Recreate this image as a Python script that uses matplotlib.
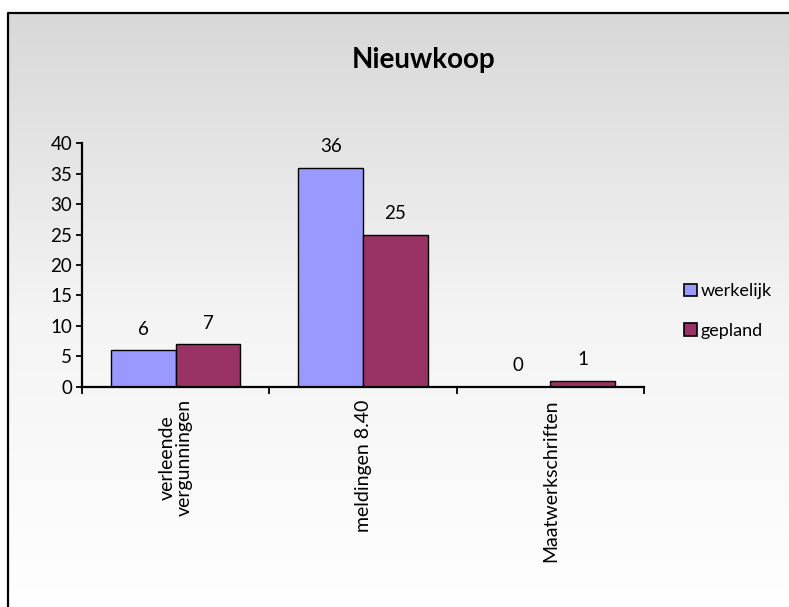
import numpy as np
import matplotlib
matplotlib.use("Agg")
import matplotlib.pyplot as plt
from matplotlib.patches import Patch

plt.rcParams['font.family'] = ['Lato', 'DejaVu Sans']

# data
categories = ['verleende\nvergunningen', 'meldingen 8.40', 'Maatwerkschriften']
werkelijk = [6, 36, 0]
gepland = [7, 25, 1]
series_names = ['werkelijk', 'gepland']
colors = ['#9999FF', '#993366']

W, H = 789, 607
fig = plt.figure(figsize=(W / 100, H / 100), dpi=100, facecolor='white')

# background: grey-to-white gradient inside a chart border
bg = fig.add_axes([0, 0, 1, 1], zorder=-1)
bg.set_xlim(0, W)
bg.set_ylim(H, 0)
bg.axis('off')
grad = np.linspace(0, 1, 256).reshape(-1, 1)
bg.imshow(grad, cmap=matplotlib.colors.LinearSegmentedColormap.from_list(
    'g', ['#d8d8d8', '#f4f4f4', '#ffffff']), aspect='auto',
    extent=[8, W + 10, H + 10, 13])
bg.plot([8.5, 8.5, W + 10], [H + 10, 13, 13], color='black', lw=1.6,
        solid_capstyle='butt')

# main axes
ax = fig.add_axes([82 / W, 1 - 386.7 / H, (644 - 82) / W, (386.7 - 143.3) / H])
ax.set_facecolor('none')

x = np.arange(len(categories))
bw = 0.345
b1 = ax.bar(x - bw / 2, werkelijk, bw, color=colors[0], edgecolor='black', lw=1.0)
b2 = ax.bar(x + bw / 2, gepland, bw, color=colors[1], edgecolor='black', lw=1.0)

for bars, vals in ((b1, werkelijk), (b2, gepland)):
    for rect, v in zip(bars, vals):
        ax.annotate(str(v), (rect.get_x() + rect.get_width() / 2, v),
                    xytext=(0, 9), textcoords='offset points',
                    ha='center', va='bottom', fontsize=13.5)

ax.set_xlim(-0.5, len(categories) - 0.5)
ax.set_ylim(0, 40)
ax.set_yticks(range(0, 41, 5))
ax.tick_params(axis='y', direction='out', length=4, width=1.3, labelsize=13.5, pad=3)

ax.set_xticks(x)
ax.set_xticklabels(categories, rotation=90, fontsize=14, ha='center', va='top',
                   linespacing=1.0)
ax.set_xticks(np.arange(-0.5, len(categories)), minor=True)
ax.tick_params(axis='x', which='major', length=0, pad=9)
ax.tick_params(axis='x', which='minor', direction='out', length=5, width=1.3)

for s in ('top', 'right'):
    ax.spines[s].set_visible(False)
for s in ('left', 'bottom'):
    ax.spines[s].set_linewidth(1.6)

fig.text(424 / W, 1 - 60 / H, 'Nieuwkoop', ha='center', va='center',
         fontsize=20, fontweight='bold')

handles = [Patch(facecolor=c, edgecolor='black', lw=1.2) for c in colors]
fig.legend(handles, series_names, loc='upper left',
           bbox_to_anchor=(677 / W, 1 - 276 / H), frameon=False, fontsize=13,
           handlelength=0.7, handleheight=0.7, handletextpad=0.2,
           labelspacing=1.3, borderaxespad=0)

fig.savefig('out.png', dpi=100)
